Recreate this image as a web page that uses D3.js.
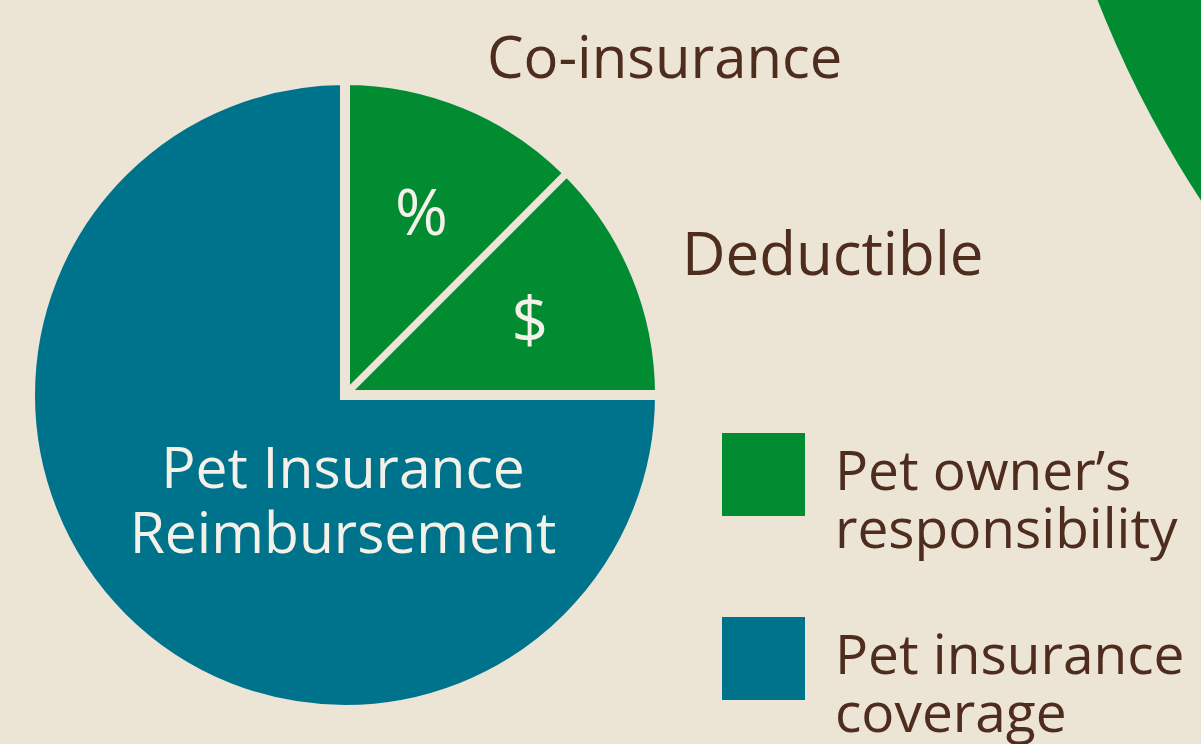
<!DOCTYPE html>
<html lang="en">
    <head>
        <meta charset="utf-8">
        <title>Pet insurance pie</title>
        <script type="text/javascript" src="https://d3js.org/d3.v7.min.js"></script>
        <style type="text/css">
          body { margin: 0; background: #ece4d5; }
          svg { display: block; font-family: "Open Sans", sans-serif; }
        </style>
    </head>
    <body>
        <svg width="1201" height="744"></svg>
        <script type="text/javascript">

            // data
            const sliceNames = ["Co-insurance", "Deductible", "Pet Insurance Reimbursement"];
            const sliceValues = [12.5, 12.5, 75];
            const sliceGroups = ["owner", "owner", "insurer"];
            const sliceSymbols = ["%", "$", ""];
            const legendGroups = ["owner", "insurer"];
            const legendLabels = [["Pet owner\u2019s", "responsibility"], ["Pet insurance", "coverage"]];

            const svg = d3.select("svg");
            const w = 1201;
            const h = 744;
            const bg = "#ece4d5";
            const brown = "#4e2c1e";
            const color = d3.scaleOrdinal().domain(legendGroups).range(["#018c32", "#00738c"]);

            svg.append("rect").attr("width", w).attr("height", h).attr("fill", bg);

            // piece of the next graphic peeking in at top right
            svg.append("circle")
               .attr("cx", 2119).attr("cy", -400).attr("r", 1097)
               .attr("fill", color("owner"));

            const cx = 345, cy = 395, R = 310;
            const data = sliceNames.map((n, i) => ({name: n, value: sliceValues[i], group: sliceGroups[i], symbol: sliceSymbols[i]}));

            const pie = d3.pie().sort(null).value(d => d.value);
            const arcs = pie(data);

            // gaps are drawn as background strokes; blue gap a bit wider
            const gapW = d => d.data.group == "insurer" ? 10 : 7;

            const g = svg.append("g").attr("transform", `translate(${cx},${cy})`);

            g.selectAll("path")
             .data(arcs)
             .enter()
             .append("path")
             .attr("d", d => d3.arc().innerRadius(0).outerRadius(R + gapW(d) / 2)(d))
             .attr("fill", d => color(d.data.group))
             .attr("stroke", bg)
             .attr("stroke-width", gapW)
             .attr("stroke-linejoin", "miter");

            // symbols inside the small slices
            const symArc = d3.arc().innerRadius(200).outerRadius(200);
            g.selectAll("text.sym")
             .data(arcs.filter(d => d.data.symbol))
             .enter()
             .append("text")
             .attr("class", "sym")
             .attr("x", d => symArc.centroid(d)[0])
             .attr("y", d => symArc.centroid(d)[1])
             .attr("text-anchor", "middle")
             .attr("dominant-baseline", "central")
             .attr("fill", "#f4f1e8")
             .attr("font-size", 64)
             .text(d => d.data.symbol);

            // big slice label
            const big = g.append("text")
                         .attr("text-anchor", "middle")
                         .attr("fill", "#f4f1e8")
                         .attr("font-size", 57);
            big.append("tspan").attr("x", -2).attr("y", 93).text("Pet Insurance");
            big.append("tspan").attr("x", -2).attr("y", 158).text("Reimbursement");

            // outside labels
            svg.append("text").attr("x", 487).attr("y", 78)
               .attr("fill", brown).attr("font-size", 58).text(sliceNames[0]);
            svg.append("text").attr("x", 682).attr("y", 275)
               .attr("fill", brown).attr("font-size", 60).text(sliceNames[1]);

            // legend
            const legend = svg.selectAll("g.legend")
                              .data(legendGroups)
                              .enter()
                              .append("g")
                              .attr("class", "legend")
                              .attr("transform", (d, i) => `translate(722,${433 + i * 184})`);

            legend.append("rect")
                  .attr("width", 83).attr("height", 83)
                  .attr("fill", d => color(d));

            legend.append("text")
                  .attr("fill", brown)
                  .attr("font-size", 55)
                  .selectAll("tspan")
                  .data((d, i) => legendLabels[i])
                  .enter()
                  .append("tspan")
                  .attr("x", 113)
                  .attr("y", (d, i) => 57 + i * 58)
                  .text(d => d);

        </script>
    </body>
</html>
